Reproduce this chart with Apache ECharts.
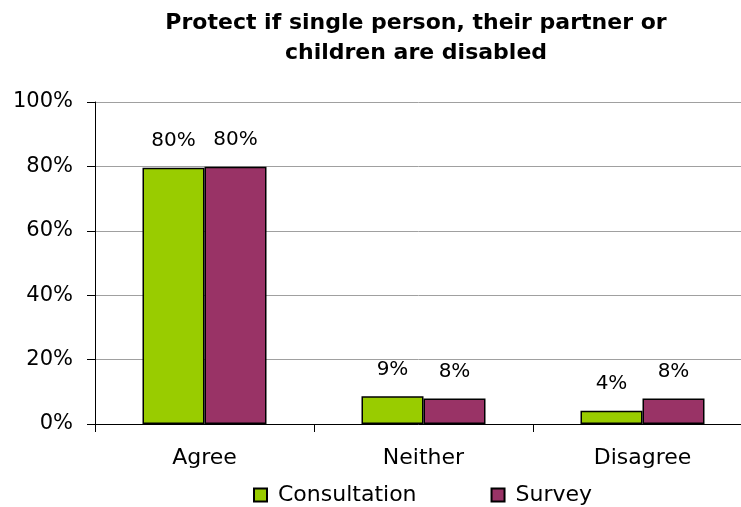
<!DOCTYPE html>
<html>
<head>
<meta charset="utf-8">
<script src="https://cdn.jsdelivr.net/npm/echarts@6/dist/echarts.min.js"></script>
<style>html,body{margin:0;padding:0;background:#fff}#c{width:741px;height:507px}</style>
</head>
<body>
<div id="c"></div>
<script>
const titleText = 'Protect if single person, their partner or\nchildren are disabled';
const categories = ['Agree', 'Neither', 'Disagree'];
const seriesNames = ['Consultation', 'Survey'];
const consultation = [79.6, 8.6, 4.1];
const survey = [79.9, 7.9, 7.9];
const yTicks = [0, 20, 40, 60, 80, 100];

const FONT = 'DejaVu Sans';
const chart = echarts.init(document.getElementById('c'), null, {renderer: 'canvas'});
chart.setOption({
  animation: false,
  backgroundColor: '#ffffff',
  textStyle: {fontFamily: FONT, color: '#000'},
  title: {
    text: titleText,
    left: 416, top: 8, padding: 0,
    textAlign: 'center',
    textStyle: {fontFamily: FONT, fontWeight: 'bold', fontSize: 22, lineHeight: 30, color: '#000'}
  },
  legend: {
    data: seriesNames,
    left: 253, top: 484, padding: 0,
    itemWidth: 13, itemHeight: 13, itemGap: 74,
    icon: 'rect',
    textStyle: {fontFamily: FONT, fontSize: 22, lineHeight: 22, color: '#000', padding: [0, 0, 0, 6]}
  },
  grid: {left: 95, width: 657, top: 102, bottom: 83, containLabel: false, outerBoundsMode: 'none'},
  xAxis: {
    type: 'category',
    data: categories,
    axisLine: {lineStyle: {color: '#000', width: 1}},
    axisTick: {show: true, length: 8, lineStyle: {color: '#000'}},
    axisLabel: {fontFamily: FONT, fontSize: 22, color: '#000', margin: 23},
    splitLine: {show: false}
  },
  yAxis: {
    type: 'value',
    min: yTicks[0], max: yTicks[yTicks.length - 1], interval: 20,
    axisLine: {show: true, lineStyle: {color: '#000', width: 1}},
    axisTick: {show: true, length: 8, lineStyle: {color: '#000'}},
    axisLabel: {fontFamily: FONT, fontSize: 21, color: '#000', margin: 22, formatter: v => v + '%'},
    splitLine: {show: true, lineStyle: {color: '#a0a0a0', width: 1}}
  },
  series: [
    {
      name: seriesNames[0], type: 'bar', data: consultation,
      barWidth: 62, barGap: '0%',
      itemStyle: {color: '#99CC00', borderColor: '#000', borderWidth: 1.5},
      label: {show: true, position: 'top', distance: 17, fontFamily: FONT, fontSize: 20, color: '#000',
              formatter: p => Math.round(p.value) + '%'}
    },
    {
      name: seriesNames[1], type: 'bar', data: survey,
      barWidth: 62, barGap: '0%',
      itemStyle: {color: '#993366', borderColor: '#000', borderWidth: 1.5},
      label: {show: true, position: 'top', distance: 17, fontFamily: FONT, fontSize: 20, color: '#000',
              formatter: p => Math.round(p.value) + '%'}
    }
  ]
});
</script>
</body>
</html>
